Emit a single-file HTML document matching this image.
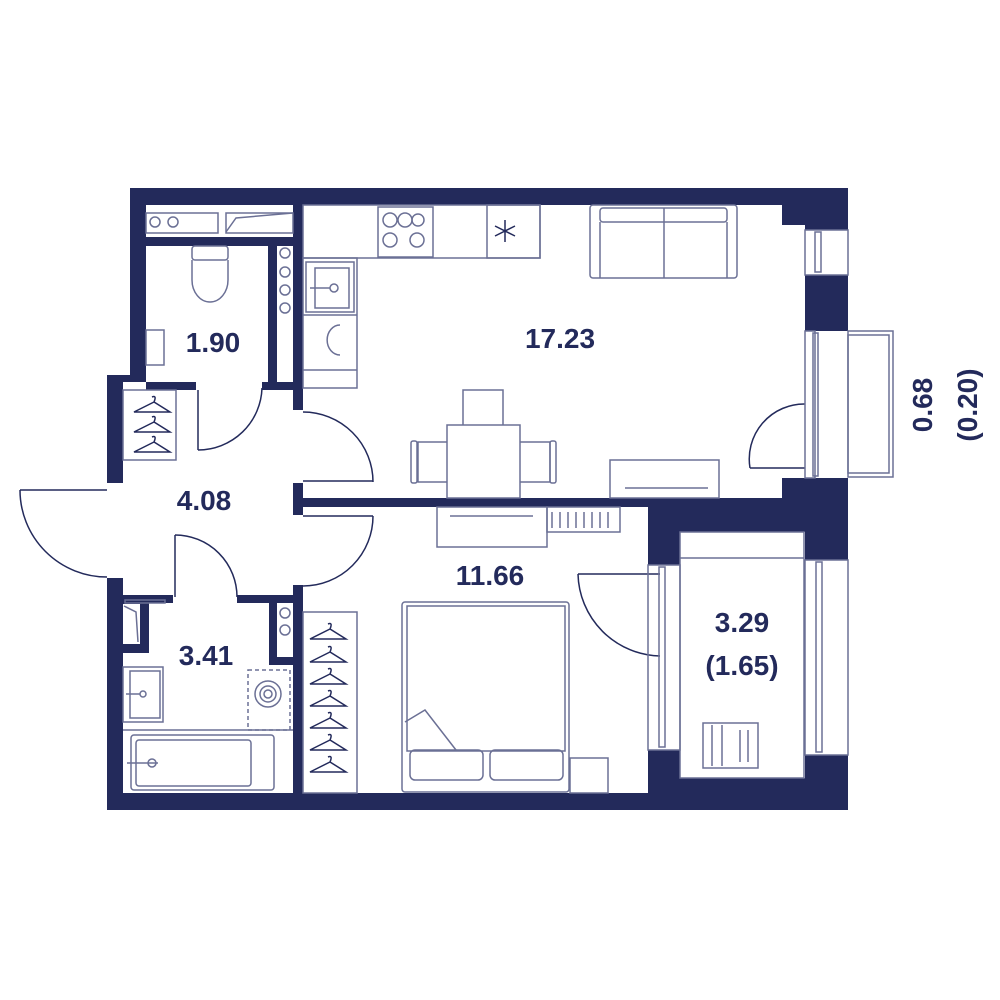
<!DOCTYPE html>
<html><head><meta charset="utf-8"><style>
html,body{margin:0;padding:0;background:#fff;}
svg{display:block;}
text{font-family:"Liberation Sans",sans-serif;font-weight:bold;fill:#232a5b;}
</style></head><body>
<svg width="1000" height="1000" viewBox="0 0 1000 1000" xmlns="http://www.w3.org/2000/svg">
<rect width="1000" height="1000" fill="#fff"/>
<g fill="#232a5b">
<rect x="130" y="188" width="718" height="17"/>
<rect x="782" y="188" width="66" height="37"/>
<rect x="130" y="188" width="16" height="194"/>
<rect x="107" y="375" width="39" height="7"/>
<rect x="107" y="375" width="16" height="108"/>
<rect x="107" y="578" width="16" height="232"/>
<rect x="107" y="793" width="741" height="17"/>
<rect x="805" y="188" width="43" height="42"/>
<rect x="805" y="275" width="43" height="56"/>
<rect x="782" y="478" width="66" height="22"/>
<rect x="648" y="498" width="200" height="34"/>
<rect x="648" y="498" width="32" height="67"/>
<rect x="805" y="498" width="43" height="62"/>
<rect x="648" y="750" width="32" height="60"/>
<rect x="805" y="755" width="43" height="55"/>
<rect x="648" y="778" width="200" height="32"/>
<rect x="295" y="498" width="353" height="9"/>
<rect x="146" y="237" width="150" height="9"/>
<rect x="268" y="245" width="9" height="140"/>
<rect x="293" y="205" width="10" height="205"/>
<rect x="146" y="382" width="50" height="8"/>
<rect x="262" y="382" width="41" height="8"/>
<rect x="293" y="483" width="10" height="32"/>
<rect x="293" y="585" width="10" height="215"/>
<rect x="123" y="595" width="50" height="8"/>
<rect x="237" y="595" width="60" height="8"/>
<rect x="123" y="603" width="26" height="50"/>
<rect x="269" y="603" width="8" height="62"/>
<rect x="269" y="657" width="26" height="8"/>
</g>
<rect x="123" y="604" width="17" height="40" fill="#fff"/>
<g fill="none" stroke="#232a5b" stroke-width="1.5">
<path d="M20 490 H107"/><path d="M20 490 A87 87 0 0 0 107 577"/>
<path d="M198 390 V450"/><path d="M198 450 A64 64 0 0 0 262 388"/>
<path d="M175 535 V597"/><path d="M175 535 A62 62 0 0 1 237 597"/>
<path d="M303 481 H373"/><path d="M303 412 A70 70 0 0 1 373 482"/>
<path d="M303 516 H373"/><path d="M373 516 A70 70 0 0 1 303 586"/>
<path d="M578 574 H660"/><path d="M578 574 A84 84 0 0 0 660 656"/>
<path d="M750 468 H805"/><path d="M750 468 A55 55 0 0 1 805 404"/>
</g>
<g fill="none" stroke="#6b7095" stroke-width="1.5">
<rect x="848" y="331" width="45" height="146"/><rect x="848" y="335" width="41" height="138"/>
<rect x="805" y="230" width="43" height="45"/><rect x="815" y="232" width="6" height="40"/>
<rect x="805" y="331" width="10" height="147"/><rect x="813" y="333" width="5" height="143"/>
<rect x="648" y="565" width="32" height="185"/><rect x="659" y="567" width="6" height="180"/>
<rect x="805" y="560" width="43" height="195"/><rect x="816" y="562" width="6" height="190"/>
<rect x="680" y="532" width="124" height="246"/><path d="M680 558 H804"/>
<rect x="703" y="723" width="55" height="45"/><path d="M712 725 V766 M722 725 V766 M740 730 V762 M748 730 V762"/>
<rect x="146" y="213" width="72" height="20"/><circle cx="155" cy="222" r="5"/><circle cx="173" cy="222" r="5"/>
<rect x="226" y="213" width="67" height="20"/><path d="M226 232 L236 218 L293 213"/>
<rect x="192" y="246" width="36" height="14" rx="3"/><path d="M192 260 V280 A18 22 0 0 0 228 280 V260"/>
<rect x="146" y="330" width="18" height="35"/>
<circle cx="285" cy="253" r="5"/><circle cx="285" cy="272" r="5"/><circle cx="285" cy="290" r="5"/><circle cx="285" cy="308" r="5"/>
<circle cx="285" cy="613" r="5"/><circle cx="285" cy="630" r="5"/>
<rect x="303" y="205" width="237" height="53"/>
<rect x="378" y="207" width="55" height="50"/><circle cx="390" cy="220" r="7"/><circle cx="405" cy="220" r="7"/><circle cx="418" cy="220" r="6"/><circle cx="390" cy="240" r="7"/><circle cx="417" cy="240" r="7"/>
<rect x="487" y="205" width="53" height="53"/>
<rect x="303" y="258" width="54" height="130"/><rect x="306" y="262" width="48" height="50"/><rect x="315" y="268" width="34" height="40"/><circle cx="334" cy="288" r="4"/><path d="M310 288 H330"/>
<path d="M303 315 H357 M303 370 H357"/><path d="M340 325 A12 14 0 0 0 340 355"/>
<rect x="590" y="205" width="147" height="73" rx="3"/><rect x="600" y="208" width="127" height="14" rx="3"/><path d="M600 222 V278 M664 208 V278 M727 222 V278"/>
<rect x="447" y="425" width="73" height="73"/>
<path d="M463 425 V390 H503 V425"/><path d="M447 442 H418 V482 H447"/><rect x="411" y="441" width="6" height="42" rx="2"/>
<path d="M520 442 H550 V482 H520"/><rect x="550" y="441" width="6" height="42" rx="2"/>
<rect x="610" y="460" width="109" height="38"/><path d="M625 488 H708"/>
<rect x="437" y="507" width="110" height="40"/><path d="M450 516 H533"/>
<rect x="547" y="507" width="73" height="25"/>
<path d="M552 512 V528 M560 512 V528 M568 512 V528 M576 512 V528 M584 512 V528 M592 512 V528 M600 512 V528 M608 512 V528"/>
<rect x="123" y="390" width="53" height="70"/>
<rect x="125" y="600" width="40" height="3"/>
<path d="M124 606 L136 612 L138 642"/>
<rect x="402" y="602" width="167" height="190" rx="3"/><rect x="407" y="606" width="158" height="145"/>
<rect x="410" y="750" width="73" height="30" rx="5"/><rect x="490" y="750" width="73" height="30" rx="5"/>
<path d="M405 722 L425 710 L456 750"/>
<rect x="570" y="758" width="38" height="35"/>
<rect x="303" y="612" width="54" height="181"/>
<rect x="123" y="667" width="40" height="55"/><rect x="130" y="671" width="30" height="47"/><circle cx="143" cy="694" r="3"/><path d="M126 694 H140"/>
<rect x="248" y="670" width="42" height="60" stroke-dasharray="4 3"/><circle cx="268" cy="694" r="13"/><circle cx="268" cy="694" r="8"/><circle cx="268" cy="694" r="4"/>
<path d="M123 730 H293"/>
<rect x="131" y="735" width="143" height="55" rx="3"/><rect x="136" y="740" width="115" height="46" rx="3"/><circle cx="152" cy="763" r="4"/><path d="M127 763 H158"/>
</g>
<g stroke="#232a5b" stroke-width="1.5" fill="none">
<path d="M505 220 V242 M495 226 L515 236 M495 236 L515 226"/>
<g id="h"><path d="M152 397 q5 -2 2 5 M154 402 L134 412 H170 Z"/></g>
<use href="#h" y="20"/><use href="#h" y="40"/>
<use href="#h" x="176" y="227"/><use href="#h" x="176" y="250"/><use href="#h" x="176" y="272"/><use href="#h" x="176" y="294"/><use href="#h" x="176" y="316"/><use href="#h" x="176" y="338"/><use href="#h" x="176" y="360"/>
</g>
<text x="213" y="352" font-size="28" text-anchor="middle">1.90</text>
<text x="560" y="348" font-size="28" text-anchor="middle">17.23</text>
<text x="204" y="510" font-size="28" text-anchor="middle">4.08</text>
<text x="490" y="585" font-size="28" text-anchor="middle">11.66</text>
<text x="206" y="665" font-size="28" text-anchor="middle">3.41</text>
<text x="742" y="632" font-size="28" text-anchor="middle">3.29</text>
<text x="742" y="675" font-size="28" text-anchor="middle">(1.65)</text>
<text transform="translate(932,405) rotate(-90)" font-size="28" text-anchor="middle">0.68</text>
<text transform="translate(977,405) rotate(-90)" font-size="28" text-anchor="middle">(0.20)</text>
</svg>
</body></html>
